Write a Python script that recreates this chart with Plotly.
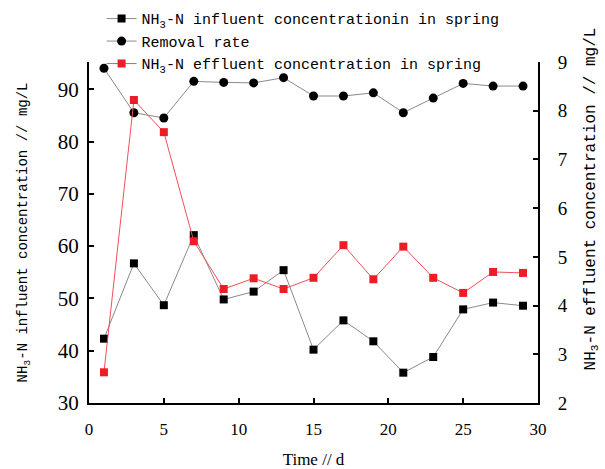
import plotly.graph_objects as go

days = [1, 3, 5, 7, 9, 11, 13, 15, 17, 19, 21, 23, 25, 27, 29]
influent = [42.3, 56.7, 48.7, 62.1, 49.8, 51.3, 55.4, 40.2, 45.8, 41.8, 35.8, 38.8, 47.9, 49.2, 48.6]
removal = [94.0, 85.5, 84.5, 91.5, 91.3, 91.2, 92.2, 88.7, 88.7, 89.3, 85.5, 88.3, 91.1, 90.6, 90.6]
effluent = [2.63, 8.22, 7.56, 5.32, 4.34, 4.56, 4.34, 4.57, 5.24, 4.54, 5.21, 4.57, 4.26, 4.69, 4.67]

x_ticks = [0, 5, 10, 15, 20, 25, 30]
y_ticks = [30, 40, 50, 60, 70, 80, 90]
y2_ticks = [2, 3, 4, 5, 6, 7, 8, 9]

mono = "Liberation Mono"
serif = "Liberation Serif"

fig = go.Figure()
fig.add_trace(go.Scatter(
    x=days, y=influent, mode="lines+markers",
    name="NH<sub>3</sub>-N influent concentrationin in spring",
    line=dict(color="#8a8a8a", width=1),
    marker=dict(symbol="square", size=8, color="black"),
))
fig.add_trace(go.Scatter(
    x=days, y=removal, mode="lines+markers",
    name="Removal rate",
    line=dict(color="#8a8a8a", width=1),
    marker=dict(symbol="circle", size=9, color="black"),
))
fig.add_trace(go.Scatter(
    x=days, y=effluent, mode="lines+markers", yaxis="y2",
    name="NH<sub>3</sub>-N effluent concentration in spring",
    line=dict(color="#f0505a", width=1),
    marker=dict(symbol="square", size=8, color="#ee1c25"),
))

fig.update_layout(
    width=605, height=469,
    margin=dict(l=89, r=67, t=62, b=66, autoexpand=False),
    paper_bgcolor="white", plot_bgcolor="white",
    showlegend=True,
    legend=dict(
        x=0.028, y=1.175, xanchor="left", yanchor="top",
        bgcolor="rgba(0,0,0,0)", font=dict(family=mono, size=15, color="black"),
        tracegroupgap=0, itemwidth=30,
    ),
    xaxis=dict(
        range=[0, 30], tickvals=x_ticks, ticks="inside", ticklen=5, tickwidth=1.5,
        tickcolor="black", showline=True, linewidth=2, linecolor="black",
        showgrid=False, zeroline=False, automargin=False,
        tickfont=dict(family=serif, size=17, color="black"),
        ticklabelstandoff=10,
        title=dict(text="Time // d", font=dict(family=serif, size=17, color="black"), standoff=16),
    ),
    yaxis=dict(
        range=[30, 95.2], tickvals=y_ticks, ticks="inside", ticklen=5, tickwidth=1.5,
        tickcolor="black", showline=True, linewidth=2, linecolor="black",
        showgrid=False, zeroline=False, automargin=False,
        tickfont=dict(family=serif, size=21, color="black"),
        ticklabelstandoff=4,
        title=dict(text="NH<sub>3</sub>-N influent concentration // mg/L",
                   font=dict(family=mono, size=14, color="black"), standoff=27),
    ),
    yaxis2=dict(
        overlaying="y", side="right",
        range=[2, 9], tickvals=y2_ticks, ticks="inside", ticklen=5, tickwidth=1.5,
        tickcolor="black", showline=True, linewidth=2, linecolor="black",
        showgrid=False, zeroline=False, automargin=False,
        tickfont=dict(family=serif, size=19, color="black"),
        ticklabelstandoff=14,
    ),
    annotations=[dict(
        text="NH<sub>3</sub>-N effluent concentration // mg/L",
        xref="paper", yref="paper", x=1.118, y=0.60, xanchor="center", yanchor="middle",
        textangle=-90, showarrow=False,
        font=dict(family=mono, size=16, color="black"),
    )],
)

fig.write_html("out.html")
